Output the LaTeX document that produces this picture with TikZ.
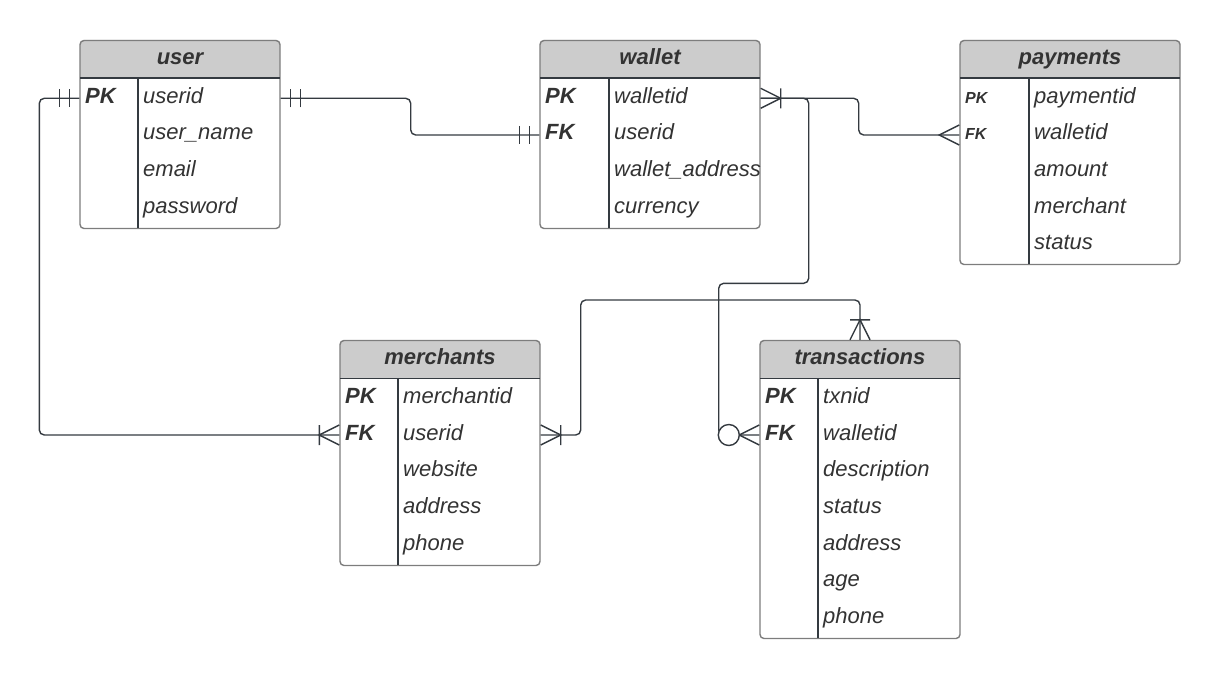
\documentclass[tikz,border=0pt]{standalone}
\usepackage{fontspec}
\setmainfont{Liberation Sans}
\usepackage{xcolor}
\definecolor{erhead}{RGB}{204,204,204}
\definecolor{erframe}{RGB}{125,125,125}
\definecolor{erdark}{RGB}{52,58,64}
\definecolor{ertext}{RGB}{51,51,51}
\tikzstyle{erline} = [line width=1.4pt, draw=erdark]
\tikzstyle{conn} = [erline, rounded corners=5pt]
\tikzstyle{headbox} = [rectangle, rounded corners=4pt, fill=erhead, inner sep=0pt, minimum height=38pt]
\tikzstyle{tablebox} = [rectangle, rounded corners=4pt, draw=erframe, line width=1.4pt, inner sep=0pt]
\tikzstyle{titletext} = [anchor=base, inner sep=0pt, text=ertext, font=\fontsize{22}{26}\selectfont\bfseries\itshape]
\tikzstyle{fieldtext} = [anchor=base west, inner sep=0pt, text height=12pt, text depth=2pt, text=ertext, font=\fontsize{22}{26}\selectfont\itshape]
\tikzstyle{keytext} = [fieldtext, font=\fontsize{22}{26}\selectfont\bfseries\itshape]
\tikzstyle{smallkey} = [fieldtext, font=\fontsize{16}{19}\selectfont\bfseries\itshape]
% crow's foot ends, drawn pointing left from the table edge
\tikzset{
  pics/onlyone/.style={code={\draw[erline] (-10,-9) -- (-10,9) (-20,-9) -- (-20,9);}},
  pics/onemany/.style={code={\draw[erline] (0,-10) -- (-20,0) -- (0,10) (-20,-10) -- (-20,10);}},
  pics/many/.style={code={\draw[erline] (0,-10) -- (-20,0) -- (0,10);}},
  pics/zeromany/.style={code={\draw[erline] (0,-10) -- (-20,0) -- (0,10); \draw[erline, fill=white] (-30.5,0) circle (10.5pt);}}
}
\begin{document}
\begin{tikzpicture}[x=1pt, y=-1pt]
\useasboundingbox (0,0) rectangle (1221,679);

% user
\node[headbox, minimum width=200pt] (uhead) at (180,59) {};
\fill[erhead] (uhead.west) rectangle (uhead.south east);
\node[tablebox, minimum width=200pt, minimum height=188pt, anchor=north] (user) at (uhead.north) {};
\draw[erline] (uhead.south west) -- (uhead.south east) (138,78) -- (138,228);
\node[titletext] (utitle) at (180,64.3) {user};
\node[keytext] (upk) at (85,103.3) {PK};
\node[fieldtext] (u1) at (143,103.3) {userid};
\node[fieldtext] (u2) at (143,140) {user\_name};
\node[fieldtext] (u3) at (143,176.7) {email};
\node[fieldtext] (u4) at (143,213.3) {password};

% wallet
\node[headbox, minimum width=220pt] (whead) at (650,59) {};
\fill[erhead] (whead.west) rectangle (whead.south east);
\node[tablebox, minimum width=220pt, minimum height=188pt, anchor=north] (wallet) at (whead.north) {};
\draw[erline] (whead.south west) -- (whead.south east) (609,78) -- (609,228);
\node[titletext] (wtitle) at (650,64.3) {wallet};
\node[keytext] (wpk) at (545,103.3) {PK};
\node[keytext] (wfk) at (545,140) {FK};
\node[fieldtext] (w1) at (614,103.3) {walletid};
\node[fieldtext] (w2) at (614,140) {userid};
\node[fieldtext] (w3) at (614,176.7) {wallet\_address};
\node[fieldtext] (w4) at (614,213.3) {currency};

% payments
\node[headbox, minimum width=220pt] (phead) at (1070,59) {};
\fill[erhead] (phead.west) rectangle (phead.south east);
\node[tablebox, minimum width=220pt, minimum height=224pt, anchor=north] (pay) at (phead.north) {};
\draw[erline] (phead.south west) -- (phead.south east) (1029,78) -- (1029,264);
\node[titletext] (ptitle) at (1070,64.3) {payments};
\node[smallkey] (ppk) at (965,103.3) {PK};
\node[smallkey] (pfk) at (965,140) {FK};
\node[fieldtext] (p1) at (1034,103.3) {paymentid};
\node[fieldtext] (p2) at (1034,140) {walletid};
\node[fieldtext] (p3) at (1034,176.7) {amount};
\node[fieldtext] (p4) at (1034,213.3) {merchant};
\node[fieldtext] (p5) at (1034,250) {status};

% merchants
\node[headbox, minimum width=200pt] (mhead) at (440,359) {};
\fill[erhead] (mhead.west) rectangle (mhead.south east);
\node[tablebox, minimum width=200pt, minimum height=225pt, anchor=north] (merch) at (mhead.north) {};
\draw[erline] (mhead.south west) -- (mhead.south east) (398,378) -- (398,565);
\node[titletext] (mtitle) at (440,364.3) {merchants};
\node[keytext] (mpk) at (345,403.3) {PK};
\node[keytext] (mfk) at (345,440) {FK};
\node[fieldtext] (m1) at (403,403.3) {merchantid};
\node[fieldtext] (m2) at (403,440) {userid};
\node[fieldtext] (m3) at (403,476.7) {website};
\node[fieldtext] (m4) at (403,513.3) {address};
\node[fieldtext] (m5) at (403,550) {phone};

% transactions
\node[headbox, minimum width=200pt] (thead) at (860,359) {};
\fill[erhead] (thead.west) rectangle (thead.south east);
\node[tablebox, minimum width=200pt, minimum height=298pt, anchor=north] (txn) at (thead.north) {};
\draw[erline] (thead.south west) -- (thead.south east) (818,378) -- (818,638);
\node[titletext] (ttitle) at (860,364.3) {transactions};
\node[keytext] (tpk) at (765,403.3) {PK};
\node[keytext] (tfk) at (765,440) {FK};
\node[fieldtext] (t1) at (823,403.3) {txnid};
\node[fieldtext] (t2) at (823,440) {walletid};
\node[fieldtext] (t3) at (823,476.7) {description};
\node[fieldtext] (t4) at (823,513.3) {status};
\node[fieldtext] (t5) at (823,550) {address};
\node[fieldtext] (t6) at (823,586.7) {age};
\node[fieldtext] (t7) at (823,623.3) {phone};

% relations
\draw[conn] (upk -| user.west) -- ++(-40,0) |- (mfk -| merch.west);
\draw[conn] (upk -| user.east) -- ++(130,0) |- (wfk -| wallet.west);
\draw[conn] (wpk -| wallet.east) -- ++(98,0) |- (pfk -| pay.west);
\draw[conn] (wpk -| wallet.east) -- ++(48,0) -- ++(0,185) -- ++(-90,0) |- (tfk -| txn.west);
\draw[conn] (mfk -| merch.east) -- ++(40,0) -- ++(0,-135) -| (txn.north);

% relation ends
\pic at (upk -| user.west) {onlyone};
\pic[rotate=180] at (upk -| user.east) {onlyone};
\pic at (wfk -| wallet.west) {onlyone};
\pic[rotate=180] at (wpk -| wallet.east) {onemany};
\pic at (pfk -| pay.west) {many};
\pic at (mfk -| merch.west) {onemany};
\pic[rotate=180] at (mfk -| merch.east) {onemany};
\pic at (tfk -| txn.west) {zeromany};
\pic[rotate=-90] at (txn.north) {onemany};
\end{tikzpicture}
\end{document}
